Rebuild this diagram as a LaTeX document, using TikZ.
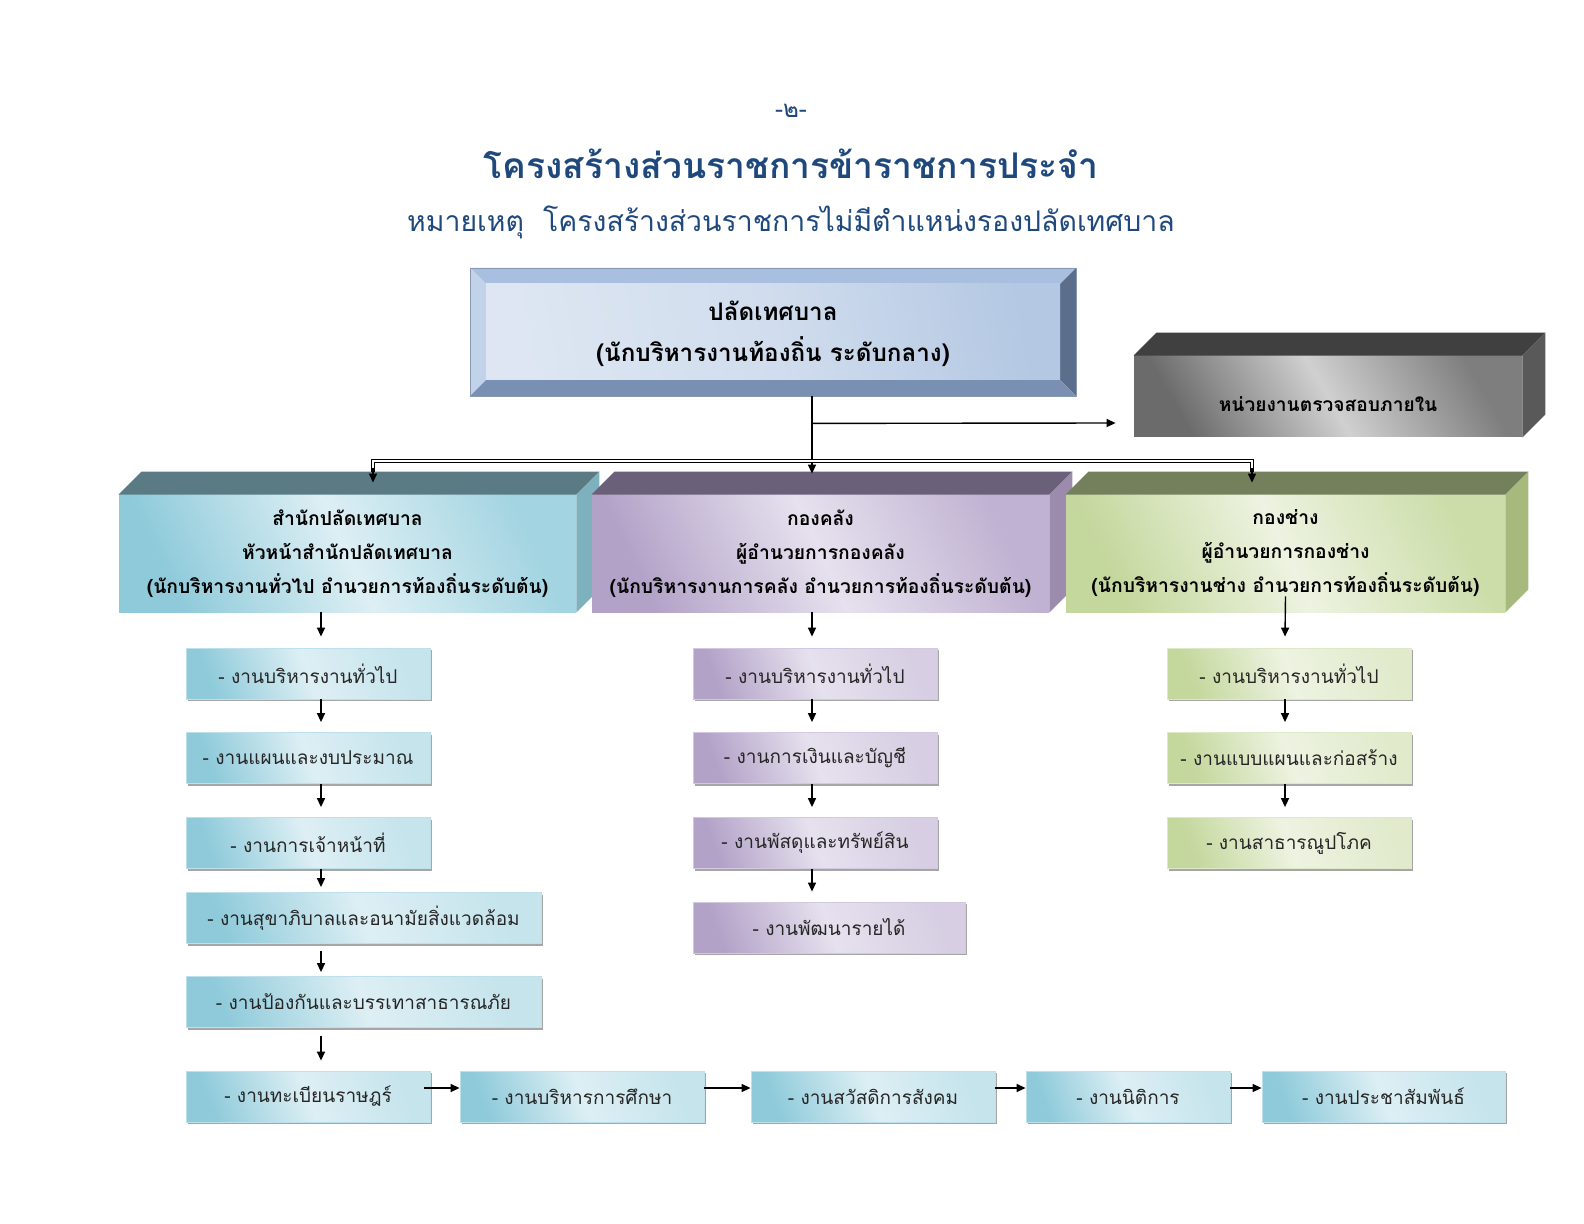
\documentclass[tikz,border=0pt]{standalone}
\usepackage{fontspec}
\setmainfont[Script=Thai]{Loma}
\usetikzlibrary{arrows.meta,calc,shadows}
\definecolor{ttl}{HTML}{1F497D}
\definecolor{tealTop}{HTML}{5A7B83}
\definecolor{tealSide}{HTML}{7EB1BE}
\definecolor{tealD}{HTML}{8ECADA}
\definecolor{tealL}{HTML}{DDEFF4}
\definecolor{tealM}{HTML}{A2D4E1}
\definecolor{purTop}{HTML}{6B6079}
\definecolor{purSide}{HTML}{9D8BAD}
\definecolor{purD}{HTML}{B3A2C8}
\definecolor{purL}{HTML}{E6E1EE}
\definecolor{purM}{HTML}{C0B2D2}
\definecolor{grnTop}{HTML}{747F5C}
\definecolor{grnSide}{HTML}{A8B97E}
\definecolor{grnD}{HTML}{C4D79C}
\definecolor{grnL}{HTML}{EDF3E1}
\definecolor{grnM}{HTML}{CCDDA9}
\definecolor{gryTop}{HTML}{404040}
\definecolor{grySide}{HTML}{595959}
\definecolor{gryD}{HTML}{6B6B6B}
\definecolor{gryL}{HTML}{D0D0D0}
\definecolor{gryM}{HTML}{7E7E7E}
\definecolor{bvTop}{HTML}{A9BFDF}
\definecolor{bvLeft}{HTML}{C2D2E9}
\definecolor{bvRight}{HTML}{5B6E8C}
\definecolor{bvBot}{HTML}{7A90B2}
\definecolor{bxL}{HTML}{DDE6F2}
\definecolor{bxR}{HTML}{B4C8E3}
\definecolor{txt}{HTML}{262626}
\newcommand\cubefaces[3]{%
  \fill[#2] (#1.north west) -- ++(23,-23) -- ($(#1.north east)+(23,-23)$) -- (#1.north east) -- cycle;
  \fill[#3] (#1.north east) -- ++(23,-23) -- ($(#1.south east)+(23,-23)$) -- (#1.south east) -- cycle;}
\begin{document}
\begin{tikzpicture}[x=0.5pt,y=-0.5pt,
  arr/.style={line width=0.7pt,-{Triangle[length=4.5pt,width=4pt]}},
  dbl/.style={draw=black,line width=0.6pt,double=white,double distance=1.2pt},
  front/.style={inner sep=0pt,align=center,font=\fontsize{9.65}{17}\selectfont\bfseries},
  tealfront/.style={front,left color=tealD,right color=tealM,middle color=tealL,shading angle=115},
  purfront/.style={front,left color=purD,right color=purM,middle color=purL,shading angle=115},
  grnfront/.style={front,left color=grnD,right color=grnM,middle color=grnL,shading angle=115},
  subbox/.style={inner sep=0pt,minimum height=25.5pt,text=txt,font=\fontsize{9.5}{11}\selectfont,
    drop shadow={shadow xshift=1.2pt,shadow yshift=-1.2pt,fill=black!35,opacity=1}},
  subteal/.style={subbox,draw=tealL!60!tealD,line width=0.4pt,left color=tealD,right color=tealL!70!tealD,middle color=tealL,shading angle=110},
  subpur/.style={subbox,draw=purL!60!purD,line width=0.4pt,left color=purD,right color=purL!70!purD,middle color=purL,shading angle=110},
  subgrn/.style={subbox,draw=grnL!60!grnD,line width=0.4pt,left color=grnD,right color=grnL!70!grnD,middle color=grnL,shading angle=110}
]
\useasboundingbox[fill=white] (0,0) rectangle (1584,1224);

% titles
\node[text=ttl,font=\fontsize{12}{14}\selectfont] (pg) at (791,111) {-๒-};
\node[text=ttl,font=\fontsize{17.7}{22}\selectfont\bfseries] (title) at (791,164) {โครงสร้างส่วนราชการข้าราชการประจำ};
\node[text=ttl,font=\fontsize{14.2}{18}\selectfont] (subt) at (791,222) {หมายเหตุ\ \ โครงสร้างส่วนราชการไม่มีตำแหน่งรองปลัดเทศบาล};

% top bevelled box
\fill[bvTop] (470,268) -- (1076,268) -- (1060,284) -- (486,284) -- cycle;
\fill[bvLeft] (470,268) -- (486,284) -- (486,380) -- (470,396) -- cycle;
\fill[bvRight] (1076,268) -- (1076,396) -- (1060,380) -- (1060,284) -- cycle;
\fill[bvBot] (470,396) -- (486,380) -- (1060,380) -- (1076,396) -- cycle;
\shade[left color=bxL,right color=bxR,middle color=bxL!70!bxR,shading angle=100] (486,284) rectangle (1060,380);
\draw[bvTop!80!black,line width=0.4pt] (470,268) rectangle (1076,396);
\node[inner sep=0pt,minimum width=303pt,minimum height=64pt,align=center,font=\fontsize{12.1}{20.5}\selectfont\bfseries] (top) at (773,334) {ปลัดเทศบาล\\(นักบริหารงานท้องถิ่น ระดับกลาง)};

% audit box
\node[front,left color=gryD,right color=gryM,middle color=gryL,shading angle=120,minimum width=194pt,minimum height=40.5pt,text height=17.5pt,text depth=2pt,font=\fontsize{9.6}{12}\selectfont\bfseries] (audit) at (1328,396.5) {หน่วยงานตรวจสอบภายใน};
\cubefaces{audit}{gryTop}{grySide}

% departments
\node[tealfront,minimum width=228.5pt,minimum height=58.5pt] (d1) at (347.5,553.5) {สำนักปลัดเทศบาล\\หัวหน้าสำนักปลัดเทศบาล\\(นักบริหารงานทั่วไป อำนวยการท้องถิ่นระดับต้น)};
\cubefaces{d1}{tealTop}{tealSide}
\node[purfront,minimum width=228.5pt,minimum height=58.5pt] (d2) at (820.5,553.5) {กองคลัง\\ผู้อำนวยการกองคลัง\\(นักบริหารงานการคลัง อำนวยการท้องถิ่นระดับต้น)};
\cubefaces{d2}{purTop}{purSide}
\node[grnfront,minimum width=219.5pt,minimum height=58.5pt] (d3) at (1285.5,553.5) {กองช่าง\\ผู้อำนวยการกองช่าง\\(นักบริหารงานช่าง อำนวยการท้องถิ่นระดับต้น)};
\cubefaces{d3}{grnTop}{grnSide}

% connectors at top
\coordinate (jt) at ($(top.south)+(39,-2)$);
\coordinate (ja) at ($(top.south)+(39,25)$);
\coordinate (d2top) at ($(d2.north)+(-8.5,-21)$);
\draw[arr] (jt) -- (d2top);
\draw[arr] (ja) -- ($(audit.west)+(-18,26.5)$);
\coordinate (dl) at ($(d1.north)+(25.5,-19)$);
\coordinate (dr) at ($(d3.north)+(-33.5,-19)$);
\draw[dbl] ($(dl)+(0,-4)$) |- (jt |- 0,461) -| ($(dr)+(0,-4)$);
\draw[arr] ($(dl)+(0,-8)$) -- ($(dl)+(0,7)$);
\draw[arr] ($(dr)+(0,-8)$) -- ($(dr)+(0,7)$);

% left column
\node[subteal,minimum width=122pt] (L1) at (308,673.5) {- งานบริหารงานทั่วไป};
\node[subteal,minimum width=122pt] (L2) at (308,758) {- งานแผนและงบประมาณ};
\node[subteal,minimum width=122pt] (L3) at (308,843) {- งานการเจ้าหน้าที่};
\node[subteal,minimum width=177.5pt] (L4) at (363.5,918) {- งานสุขาภิบาลและอนามัยสิ่งแวดล้อม};
\node[subteal,minimum width=177.5pt] (L5) at (363.5,1002) {- งานป้องกันและบรรเทาสาธารณภัย};
\node[subteal,minimum width=122pt] (L6) at (308,1096.5) {- งานทะเบียนราษฎร์};
\node[subteal,minimum width=122pt] (B2) at (582,1096.5) {- งานบริหารการศึกษา};
\node[subteal,minimum width=122pt] (B3) at (873,1096.5) {- งานสวัสดิการสังคม};
\node[subteal,minimum width=102pt] (B4) at (1128,1096.5) {- งานนิติการ};
\node[subteal,minimum width=121.5pt] (B5) at (1383.5,1096.5) {- งานประชาสัมพันธ์};

\draw[arr] ($(d1.south)+(-26.5,0)$) -- ($(L1.north)+(13,-11)$);
\draw[arr] ($(L1.south)+(13,0)$) -- ($(L2.north)+(13,-10)$);
\draw[arr] ($(L2.south)+(13,0)$) -- ($(L3.north)+(13,-10)$);
\draw[arr] ($(L3.south)+(13,0)$) -- ($(L4.north)+(-42.5,-5)$);
\draw[arr] ($(L4.south)+(-42.5,7)$) -- ($(L5.north)+(-42.5,-4)$);
\draw[arr] ($(L5.south)+(-42.5,8)$) -- ($(L6.north)+(13,-10)$);
\draw[arr] ($(L6.east)+(-6,-8.5)$) -- ($(B2.west)+(0,-8.5)$);
\draw[arr] ($(B2.east)+(0,-8.5)$) -- ($(B3.west)+(0,-8.5)$);
\draw[arr] ($(B3.east)+(0,-8.5)$) -- ($(B4.west)+(0,-8.5)$);
\draw[arr] ($(B4.east)+(0,-8.5)$) -- ($(B5.west)+(0,-8.5)$);

% middle column
\node[subpur,minimum width=122pt] (M1) at (815,673.5) {- งานบริหารงานทั่วไป};
\node[subpur,minimum width=122pt] (M2) at (815,758) {- งานการเงินและบัญชี};
\node[subpur,minimum width=122pt] (M3) at (815,843) {- งานพัสดุและทรัพย์สิน};
\node[subpur,minimum width=136pt] (M4) at (829,927.5) {- งานพัฒนารายได้};
\draw[arr] ($(d2.south)+(-8.5,0)$) -- ($(M1.north)+(-3,-11)$);
\draw[arr] ($(M1.south)+(-3,0)$) -- ($(M2.north)+(-3,-10)$);
\draw[arr] ($(M2.south)+(-3,0)$) -- ($(M3.north)+(-3,-10)$);
\draw[arr] ($(M3.south)+(-3,0)$) -- ($(M4.north)+(-17,-10)$);

% right column
\node[subgrn,minimum width=122pt] (R1) at (1289,673.5) {- งานบริหารงานทั่วไป};
\node[subgrn,minimum width=122pt] (R2) at (1289,758) {- งานแบบแผนและก่อสร้าง};
\node[subgrn,minimum width=122pt] (R3) at (1289,843) {- งานสาธารณูปโภค};
\draw[arr] ($(d3.south)+(0,-16)$) -- ($(R1.north)+(-4,-11)$);
\draw[arr] ($(R1.south)+(-4,0)$) -- ($(R2.north)+(-4,-10)$);
\draw[arr] ($(R2.south)+(-4,0)$) -- ($(R3.north)+(-4,-10)$);
\end{tikzpicture}
\end{document}
